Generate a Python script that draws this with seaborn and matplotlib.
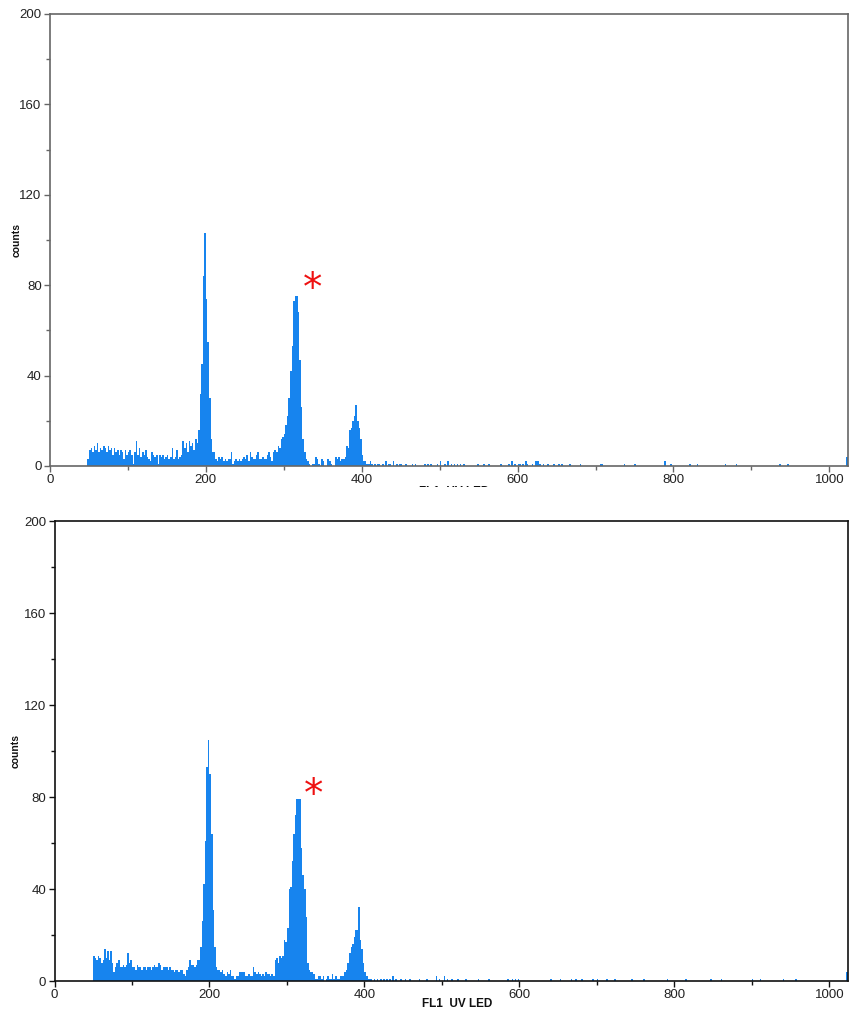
import numpy as np
import pandas as pd
import seaborn as sns
import matplotlib.pyplot as plt
from matplotlib.patches import Rectangle
from matplotlib.ticker import MultipleLocator

# channel counts, 2-channel bins; contiguous block starts at *_start
top_start = 48
top_counts = [
    3, 7, 8, 6, 9, 7, 10, 6, 8, 7,
    9, 8, 6, 9, 7, 8, 5, 8, 6, 7,
    5, 7, 6, 3, 7, 5, 6, 7, 5, 1,
    6, 11, 5, 8, 4, 6, 5, 7, 4, 3,
    2, 6, 5, 4, 5, 1, 5, 4, 5, 3,
    4, 5, 3, 4, 8, 3, 4, 7, 3, 4,
    5, 11, 8, 10, 6, 11, 9, 10, 7, 12,
    10, 16, 32, 45, 84, 103, 74, 55, 30, 12, 6,
    6, 3, 2, 4, 3, 4, 2, 3, 2, 3, 3, 6, 1, 2, 3, 2, 3, 2, 3, 4,
    3, 5, 2, 6, 4, 3, 3, 5, 6, 3, 3, 4, 3, 3, 5, 6, 4, 2, 6, 7,
    6, 9, 8, 12, 13, 14, 18, 22, 30, 42, 53, 73, 75, 75, 68, 47, 26, 12, 6, 3,
    2, 1, 0, 1, 1, 4, 3, 1, 0, 3, 2, 0, 0, 3, 2, 1, 0, 0, 4, 3, 4, 2, 3,
    3, 4, 9, 8, 16, 17, 20, 22, 27, 20, 17, 12, 5, 2, 2, 1, 1,
]
top_tail_ch = [410, 412, 416, 420, 422, 426, 430, 434, 436, 440, 444, 448, 450, 456,
               464, 468, 480, 484, 488, 496, 500, 506, 510, 514, 518, 522, 526, 530,
               548, 556, 562, 578, 588, 592, 596, 600, 602, 606, 610, 612, 618, 622,
               624, 626, 628, 632, 638, 646, 652, 656, 666, 680, 706, 708, 736, 750,
               788, 796, 820, 830, 866, 880, 936, 946, 1022]
top_tail_counts = [2, 1, 1, 1, 1, 1, 2, 1, 1, 2, 1, 1, 1, 1,
                   1, 1, 1, 1, 1, 1, 2, 1, 2, 1, 1, 1, 1, 1,
                   1, 1, 1, 1, 1, 2, 1, 1, 1, 1, 2, 1, 1, 2,
                   2, 2, 1, 1, 1, 1, 1, 1, 1, 1, 1, 1, 1, 1,
                   2, 1, 1, 1, 1, 1, 1, 1, 4]

bot_start = 50
bot_counts = [
    11, 10, 9, 11, 10, 8, 9, 14, 10, 13,
    9, 13, 8, 4, 6, 8, 9, 6, 6, 7,
    6, 7, 12, 8, 9, 6, 6, 5, 7, 6,
    6, 5, 6, 6, 5, 6, 6, 5, 6, 7,
    6, 6, 8, 7, 5, 6, 6, 6, 5, 6,
    5, 5, 4, 5, 5, 4, 5, 5, 3, 2,
    5, 6, 9, 7, 7, 6, 7, 9,
    9, 15, 26, 42, 61, 93, 105, 90, 64, 31, 15, 6, 5,
    5, 4, 5, 3, 2, 4, 3, 5, 2, 2, 1, 2, 2, 4, 4, 4, 4,
    2, 2, 3, 2, 2, 6, 4, 3, 4, 3, 2, 3, 2, 4, 3, 3, 2,
    3, 2, 9, 10, 8, 11, 10, 11, 18, 17, 23, 40, 41, 52, 64,
    72, 88, 92, 84, 58, 46, 40, 28, 8, 5, 4, 4, 3, 1,
    1, 2, 2, 1, 2, 0, 1, 2, 1, 1, 3, 1, 2, 1, 1, 2, 2,
    2, 4, 5, 8, 12, 15, 16, 19, 22, 22, 32, 18, 14, 8, 4, 2, 1, 1,
]
bot_tail_ch = [408, 412, 416, 420, 424, 428, 432, 436, 440, 446, 452, 458, 470, 480,
               492, 496, 502, 506, 512, 520, 530, 546, 560, 584, 590, 594, 598, 640,
               652, 666, 672, 680, 694, 700, 712, 722, 744, 760, 790, 814, 846, 860,
               900, 910, 940, 956, 1022]
bot_tail_counts = [1, 1, 1, 1, 1, 1, 1, 2, 1, 1, 1, 1, 1, 1,
                   2, 1, 2, 1, 1, 1, 1, 1, 1, 1, 1, 1, 1, 1,
                   1, 1, 1, 1, 1, 1, 1, 1, 1, 1, 1, 1, 1, 1,
                   1, 1, 1, 1, 4]

x_ticks = [0, 200, 400, 600, 800, 1000]
y_ticks = [0, 40, 80, 120, 160, 200]
x_label = "FL1  UV LED"
y_label = "counts"
BLUE = "#1784ee"
RED = "#ee1111"


def make_frame(start, counts, tail_ch, tail_counts):
    ch = list(range(start, start + 2 * len(counts), 2)) + list(tail_ch)
    return pd.DataFrame({"channel": np.array(ch) + 1, "counts": list(counts) + list(tail_counts)})


top_df = make_frame(top_start, top_counts, top_tail_ch, top_tail_counts)
bot_df = make_frame(bot_start, bot_counts, bot_tail_ch, bot_tail_counts)

sns.set_style("ticks")
plt.rcParams["font.family"] = ["Liberation Sans", "DejaVu Sans"]

fig = plt.figure(figsize=(8.5, 10.13), dpi=100)
ax_top = fig.add_axes([50 / 850, 1 - 466 / 1013, 798 / 850, 452 / 1013])
ax_bot = fig.add_axes([54.5 / 850, 1 - 981 / 1013, 793.5 / 850, 460 / 1013])

for ax, df, spine_col in [(ax_top, top_df, "#666666"), (ax_bot, bot_df, "#111111")]:
    sns.histplot(data=df, x="channel", weights="counts", binwidth=2, binrange=(0, 1024),
                 color=BLUE, alpha=1, linewidth=0, ax=ax, zorder=2)
    ax.set_xlim(0, 1024)
    ax.set_ylim(0, 200)
    ax.set_xticks(x_ticks)
    ax.set_yticks(y_ticks)
    ax.xaxis.set_minor_locator(MultipleLocator(100))
    ax.yaxis.set_minor_locator(MultipleLocator(20))
    ax.tick_params(which="both", direction="out", color=spine_col, width=1)
    ax.tick_params(which="major", length=4, labelsize=9.5, labelcolor="#222222", pad=2)
    ax.tick_params(which="minor", length=3)
    for s in ax.spines.values():
        s.set_color(spine_col)
        s.set_linewidth(1.2)
    ax.set_xlabel(x_label, fontsize=8.5, fontweight="bold", color="#111111")
    ax.set_ylabel(y_label, fontsize=7.5, fontweight="bold", color="#111111")

ax_top.yaxis.set_label_coords(-0.036, 0.5)
ax_bot.yaxis.set_label_coords(-0.043, 0.5)
ax_top.xaxis.set_label_coords(0.506, -0.045)
ax_bot.xaxis.set_label_coords(0.508, -0.036)

# white box hiding the top of the middle peak in the lower panel
ax_bot.add_patch(Rectangle((311, 79), 52, 18, facecolor="white", edgecolor="none", zorder=3))

ax_top.text(337, 78.5, "*", color=RED, fontsize=28, family="DejaVu Sans",
            ha="center", va="center", zorder=4)
ax_bot.text(334, 81, "*", color=RED, fontsize=28, family="DejaVu Sans",
            ha="center", va="center", zorder=4)

# upper x label is cut off by the lower panel
fig.add_artist(Rectangle((0, 1 - 515 / 1013), 1, 28.5 / 1013, transform=fig.transFigure,
                         facecolor="white", edgecolor="none", zorder=5))

plt.savefig("out.png", dpi=100)
